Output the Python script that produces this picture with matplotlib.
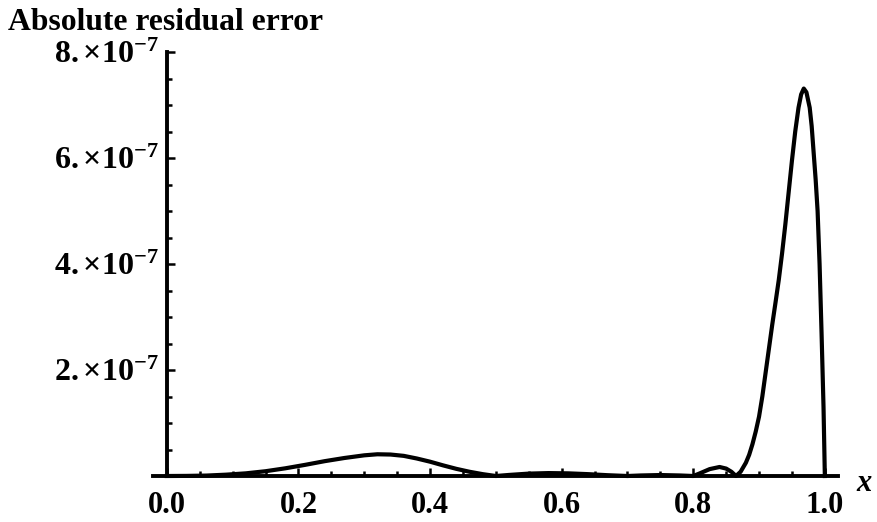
import numpy as n
from matplotlib import pyplot as plt
from matplotlib.ticker import MultipleLocator, FixedLocator

plt.rcParams['font.family'] = 'Liberation Serif'
plt.rcParams['font.weight'] = 'bold'
plt.rcParams['mathtext.fontset'] = 'custom'
plt.rcParams['mathtext.rm'] = 'Liberation Serif:bold'
plt.rcParams['mathtext.it'] = 'Liberation Serif:italic:bold'
plt.rcParams['mathtext.bf'] = 'Liberation Serif:bold'

# residual, error in units of 1e-7
x_pts = [0.00, 0.03, 0.06, 0.09, 0.12, 0.15, 0.18, 0.21, 0.24, 0.27, 0.30, 0.32,
         0.34, 0.36, 0.38, 0.40, 0.42, 0.44, 0.46, 0.48, 0.50, 0.52, 0.55, 0.58,
         0.61, 0.64, 0.67, 0.70, 0.72, 0.75, 0.78, 0.80, 0.81, 0.825, 0.84, 0.85,
         0.858, 0.865, 0.872, 0.88, 0.885, 0.89, 0.895, 0.90, 0.905, 0.91, 0.915,
         0.92, 0.925, 0.93, 0.935, 0.94, 0.945, 0.95, 0.955, 0.96, 0.964, 0.968,
         0.972, 0.977, 0.980, 0.983, 0.986, 0.989, 0.992, 0.995, 0.998, 1.00]
err_pts = [0.0, 0.002, 0.008, 0.025, 0.05, 0.09, 0.145, 0.21, 0.28, 0.34, 0.39, 0.41,
           0.405, 0.38, 0.33, 0.27, 0.20, 0.135, 0.08, 0.035, 0.0, 0.02, 0.045, 0.055,
           0.05, 0.035, 0.015, 0.0, 0.01, 0.018, 0.01, 0.0, 0.05, 0.13, 0.17, 0.14,
           0.08, 0.0, 0.08, 0.25, 0.4, 0.6, 0.84, 1.12, 1.5, 1.95, 2.4,
           2.85, 3.27, 3.7, 4.2, 4.75, 5.35, 5.95, 6.5, 6.95, 7.2, 7.31,
           7.24, 6.95, 6.6, 6.1, 5.6, 5.0, 4.0, 2.7, 1.3, 0.0]

x_ticks = [0.0, 0.2, 0.4, 0.6, 0.8, 1.0]
x_tick_labels = ['0.0', '0.2', '0.4', '0.6', '0.8', '1.0']
y_ticks = [2e-7, 4e-7, 6e-7, 8e-7]
y_tick_labels = [r'$2.{\times}10^{-7}$', r'$4.{\times}10^{-7}$',
                 r'$6.{\times}10^{-7}$', r'$8.{\times}10^{-7}$']

W, H = 878, 522
fig = plt.figure(figsize=(W / 100, H / 100), dpi=100)
ax = fig.add_axes([153 / W, 46 / H, 685 / W, 424 / H])

ax.plot(x_pts, n.array(err_pts) * 1e-7, color='black', lw=3,
        solid_joinstyle='round', clip_on=False, zorder=3)

ax.set_xlim(-0.021, 1.020)
ax.set_ylim(0, 8e-7)

# mathematica style axes crossing at the origin
ax.spines['left'].set_position(('data', 0))
ax.spines['top'].set_visible(False)
ax.spines['right'].set_visible(False)
for s in ['left', 'bottom']:
    ax.spines[s].set_linewidth(2.8)

ax.xaxis.set_major_locator(FixedLocator(x_ticks))
ax.set_xticklabels(x_tick_labels)
ax.xaxis.set_minor_locator(MultipleLocator(0.05))
ax.yaxis.set_major_locator(FixedLocator(y_ticks))
ax.set_yticklabels(y_tick_labels)
ax.yaxis.set_minor_locator(MultipleLocator(0.5e-7))

ax.tick_params(which='both', direction='in', width=1.8, labelsize=22)
ax.tick_params(axis='y', labelsize=23)
ax.tick_params(which='major', length=6)
ax.tick_params(which='minor', length=3.5)
ax.tick_params(axis='x', pad=11)
ax.tick_params(axis='y', pad=6)

fig.text(8 / W, 1 - 30 / H, 'Absolute residual error', fontsize=22.8,
         fontweight='bold', va='baseline')
fig.text(856 / W, 1 - 491 / H, 'x', fontsize=22, style='italic',
         fontweight='bold', va='baseline')

fig.savefig('out.png', dpi=100)
